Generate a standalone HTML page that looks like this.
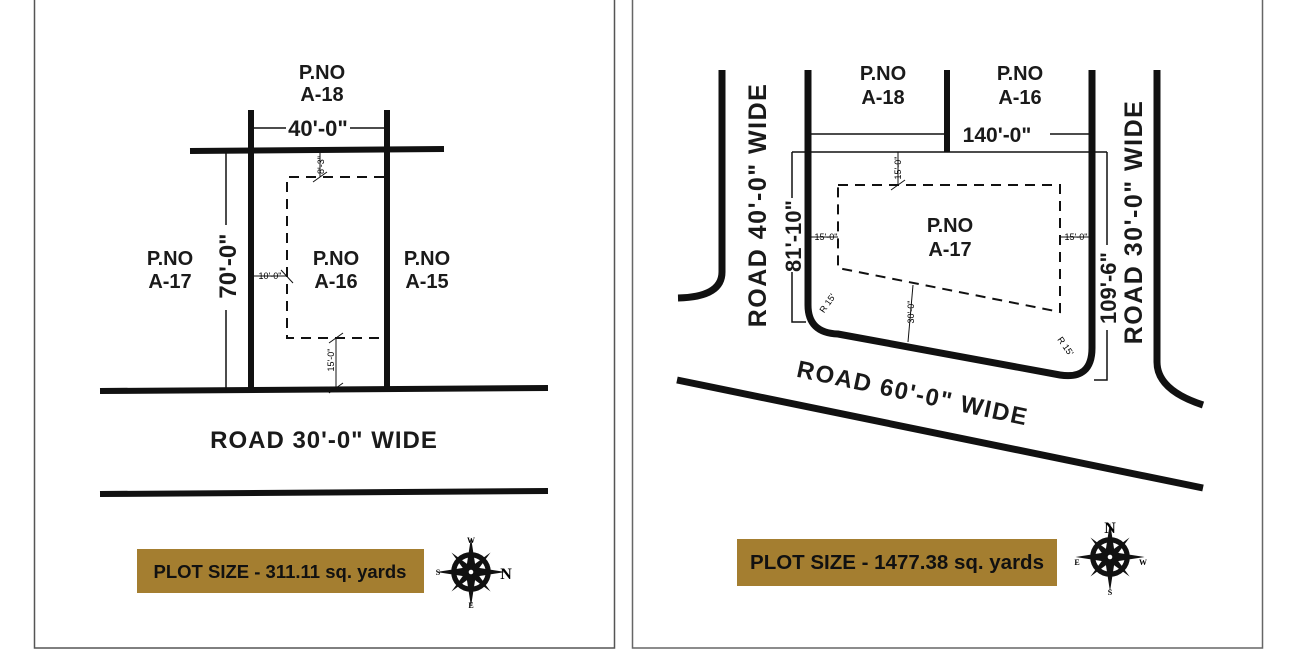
<!DOCTYPE html>
<html><head><meta charset="utf-8"><style>
html,body{margin:0;padding:0;background:#fff;}
svg{display:block;font-family:"Liberation Sans",sans-serif;}
.b{font-weight:bold;fill:#1a1a1a;}
</style></head><body>
<svg width="1300" height="650" viewBox="0 0 1300 650" xmlns="http://www.w3.org/2000/svg">
<defs>
<g id="cmp">
  <circle cx="0" cy="0" r="15" fill="none" stroke="#111" stroke-width="4.5"/>
  <polygon points="0,-30 4,-4 0,0 -4,-4" fill="#111"/>
  <polygon points="0,30 4,4 0,0 -4,4" fill="#111"/>
  <polygon points="-30,0 -4,-4 0,0 -4,4" fill="#111"/>
  <polygon points="30,0 4,-4 0,0 4,4" fill="#111"/>
  <polygon points="-17,-17 -2,-6 0,0 -6,-2" fill="#111"/>
  <polygon points="17,-17 2,-6 0,0 6,-2" fill="#111"/>
  <polygon points="-17,17 -2,6 0,0 -6,2" fill="#111"/>
  <polygon points="17,17 2,6 0,0 6,2" fill="#111"/>
  <circle cx="0" cy="0" r="2" fill="#fff"/>
</g>
</defs>
<rect x="0" y="0" width="1300" height="650" fill="#fff"/>
<rect x="34.5" y="-2" width="580" height="650" fill="none" stroke="#555" stroke-width="1.5"/>
<rect x="632.5" y="-2" width="630" height="650" fill="none" stroke="#666" stroke-width="1.5"/>

<!-- LEFT PANEL -->
<g stroke="#111" fill="none" stroke-linecap="butt">
  <line x1="190" y1="151" x2="444" y2="149" stroke-width="6"/>
  <line x1="251" y1="110" x2="251" y2="390" stroke-width="6"/>
  <line x1="387" y1="110" x2="387" y2="390" stroke-width="6"/>
  <line x1="100" y1="391" x2="548" y2="388" stroke-width="6"/>
  <line x1="100" y1="494" x2="548" y2="491" stroke-width="6"/>
  <line x1="226" y1="153" x2="226" y2="225" stroke-width="1.5"/>
  <line x1="226" y1="310" x2="226" y2="390" stroke-width="1.5"/>
  <line x1="253" y1="128" x2="286" y2="128" stroke-width="1.5"/>
  <line x1="350" y1="128" x2="385" y2="128" stroke-width="1.5"/>
  <path d="M384 177 H287 V338 H384" stroke-width="2" stroke-dasharray="10,7"/>
  <line x1="320" y1="153" x2="320" y2="177" stroke-width="1"/>
  <line x1="313" y1="182" x2="327" y2="172" stroke-width="1"/>
  <line x1="336" y1="338" x2="336" y2="388" stroke-width="1"/>
  <line x1="329" y1="343" x2="343" y2="333" stroke-width="1"/>
  <line x1="329" y1="393" x2="343" y2="383" stroke-width="1"/>
  <line x1="254" y1="276" x2="287" y2="276" stroke-width="1"/>
  <line x1="281" y1="270" x2="293" y2="283" stroke-width="1"/>
</g>
<text class="b" x="322" y="79" font-size="20" text-anchor="middle">P.NO</text>
<text class="b" x="322" y="101" font-size="20" text-anchor="middle">A-18</text>
<text class="b" x="318" y="136" font-size="22" text-anchor="middle">40'-0"</text>
<text class="b" x="170" y="265" font-size="20" text-anchor="middle">P.NO</text>
<text class="b" x="170" y="288" font-size="20" text-anchor="middle">A-17</text>
<text class="b" x="336" y="265" font-size="20" text-anchor="middle">P.NO</text>
<text class="b" x="336" y="288" font-size="20" text-anchor="middle">A-16</text>
<text class="b" x="427" y="265" font-size="20" text-anchor="middle">P.NO</text>
<text class="b" x="427" y="288" font-size="20" text-anchor="middle">A-15</text>
<text class="b" font-size="24" text-anchor="middle" transform="translate(236,266) rotate(-90)">70'-0"</text>
<text font-size="9" text-anchor="middle" transform="translate(324,165) rotate(-90)">8'-3"</text>
<text font-size="9" text-anchor="middle" transform="translate(334,360) rotate(-90)">15'-0"</text>
<text font-size="9" x="270" y="279" text-anchor="middle">10'-0"</text>
<text class="b" x="324" y="448" font-size="24" text-anchor="middle" letter-spacing="1">ROAD 30'-0" WIDE</text>
<rect x="137" y="549" width="287" height="44" fill="#a47e30"/>
<text class="b" x="280" y="578" font-size="18.5" text-anchor="middle" style="fill:#111">PLOT SIZE - 311.11 sq. yards</text>
<use href="#cmp" transform="translate(471,572) scale(1.15)"/>
<text x="471" y="543" font-size="8" text-anchor="middle" font-family="Liberation Serif" font-weight="bold">W</text>
<text x="471" y="608" font-size="8" text-anchor="middle" font-family="Liberation Serif" font-weight="bold">E</text>
<text x="438" y="575" font-size="8" text-anchor="middle" font-family="Liberation Serif" font-weight="bold">S</text>
<text x="506" y="579" font-size="16" text-anchor="middle" font-family="Liberation Serif" font-weight="bold">N</text>

<!-- RIGHT PANEL -->
<g stroke="#111" fill="none">
  <path d="M722 70 V272 Q722 297 678 298" stroke-width="7"/>
  <path d="M808 70 V305 Q808 333 838 334 L1060 375 Q1092 380 1092 348 V70" stroke-width="7"/>
  <line x1="947" y1="70" x2="947" y2="152" stroke-width="6"/>
  <path d="M1157 70 V362 Q1157 390 1203 405" stroke-width="7"/>
  <line x1="677" y1="380" x2="1203" y2="488" stroke-width="7"/>
  <line x1="810" y1="134" x2="945" y2="134" stroke-width="1.5"/>
  <line x1="1050" y1="134" x2="1089" y2="134" stroke-width="1.5"/>
  <line x1="792" y1="152" x2="1107" y2="152" stroke-width="1.5"/>
  <path d="M806 322 H792 V272" stroke-width="1.5"/>
  <line x1="792" y1="152" x2="792" y2="198" stroke-width="1.5"/>
  <path d="M1094 380 H1107 V330" stroke-width="1.5"/>
  <line x1="1107" y1="152" x2="1107" y2="245" stroke-width="1.5"/>
  <path d="M838 185 H1060 V312 L838 268 Z" stroke-width="2" stroke-dasharray="10,7"/>
  <line x1="898" y1="152" x2="898" y2="185" stroke-width="1"/>
  <line x1="891" y1="190" x2="905" y2="180" stroke-width="1"/>
  <line x1="913" y1="285" x2="908" y2="342" stroke-width="1"/>
  <line x1="810" y1="237" x2="838" y2="237" stroke-width="1"/>
  <line x1="1060" y1="237" x2="1090" y2="237" stroke-width="1"/>
</g>
<text class="b" x="883" y="80" font-size="20" text-anchor="middle">P.NO</text>
<text class="b" x="883" y="104" font-size="20" text-anchor="middle">A-18</text>
<text class="b" x="1020" y="80" font-size="20" text-anchor="middle">P.NO</text>
<text class="b" x="1020" y="104" font-size="20" text-anchor="middle">A-16</text>
<text class="b" x="997" y="142" font-size="21" text-anchor="middle">140'-0"</text>
<text class="b" x="950" y="232" font-size="20" text-anchor="middle">P.NO</text>
<text class="b" x="950" y="256" font-size="20" text-anchor="middle">A-17</text>
<text class="b" font-size="22" text-anchor="middle" transform="translate(801,236) rotate(-90)">81'-10"</text>
<text class="b" font-size="22" text-anchor="middle" transform="translate(1116,288) rotate(-90)">109'-6"</text>
<text class="b" font-size="25" text-anchor="middle" letter-spacing="1.5" transform="translate(766,205) rotate(-90)">ROAD 40'-0" WIDE</text>
<text class="b" font-size="25" text-anchor="middle" letter-spacing="1.5" transform="translate(1142,222) rotate(-90)">ROAD 30'-0" WIDE</text>
<text class="b" font-size="24" text-anchor="middle" letter-spacing="1.5" transform="translate(911,401) rotate(12)">ROAD 60'-0" WIDE</text>
<text font-size="9" text-anchor="middle" transform="translate(901,168) rotate(-90)">15'-0"</text>
<text font-size="9" text-anchor="middle" transform="translate(914,312) rotate(-90)">30'-0"</text>
<text font-size="9" x="826" y="240" text-anchor="middle">15'-0"</text>
<text font-size="9" x="1076" y="240" text-anchor="middle">15'-0"</text>
<text font-size="9" text-anchor="middle" transform="translate(830,305) rotate(-55)">R 15'</text>
<text font-size="9" text-anchor="middle" transform="translate(1063,348) rotate(55)">R 15'</text>
<rect x="737" y="539" width="320" height="47" fill="#a47e30"/>
<text class="b" x="897" y="569" font-size="20.5" text-anchor="middle" style="fill:#111">PLOT SIZE - 1477.38 sq. yards</text>
<use href="#cmp" transform="translate(1110,557) scale(1.15)"/>
<text x="1110" y="533" font-size="16" text-anchor="middle" font-family="Liberation Serif" font-weight="bold">N</text>
<text x="1110" y="595" font-size="8" text-anchor="middle" font-family="Liberation Serif" font-weight="bold">S</text>
<text x="1077" y="565" font-size="8" text-anchor="middle" font-family="Liberation Serif" font-weight="bold">E</text>
<text x="1143" y="565" font-size="8" text-anchor="middle" font-family="Liberation Serif" font-weight="bold">W</text>
</svg>
</body></html>
